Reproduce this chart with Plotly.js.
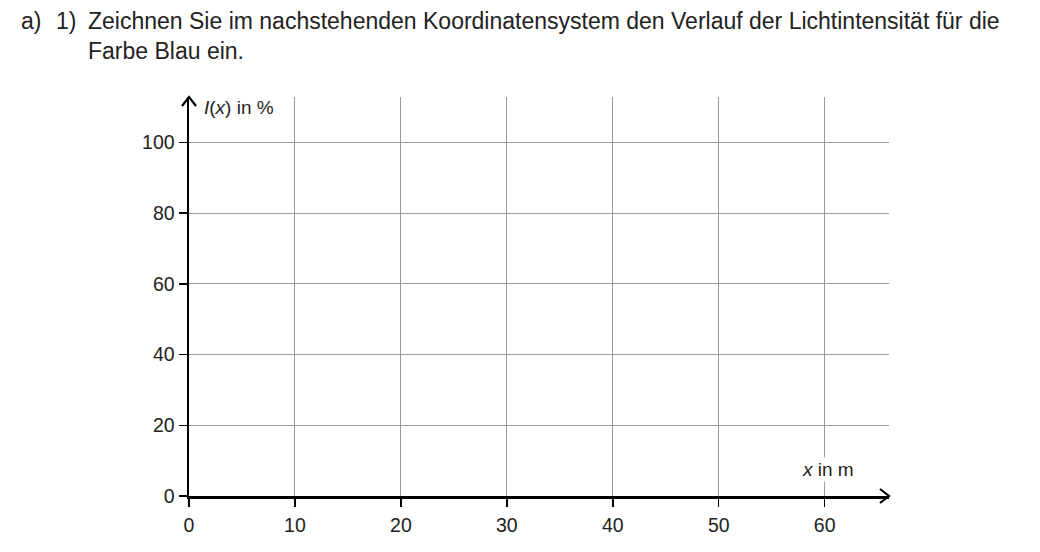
<!DOCTYPE html>
<html>
<head>
<meta charset="utf-8">
<script src="https://cdn.plot.ly/plotly-3.0.1.min.js"></script>
<style>
html,body{margin:0;padding:0;background:#fff;}
#chart{width:1040px;height:552px;}
</style>
</head>
<body>
<div id="chart"></div>
<script>
// Tick values of the empty coordinate system
const xTicks = [0, 10, 20, 30, 40, 50, 60];
const yTicks = [0, 20, 40, 60, 80, 100];
const xMax = 66.07;
const yMax = 112.8;

const questionLabel = "a)";
const subLabel = "1)";
const questionText = "Zeichnen Sie im nachstehenden Koordinatensystem den Verlauf der Lichtintensität für die<br>Farbe Blau ein.";
const yTitle = "<i>I</i>(<i>x</i>) in %";
const xTitle = "<i>x</i> in m";

const font = "Liberation Sans, Arial, Helvetica, sans-serif";
const txtColor = "#222";

const layout = {
  width: 1040, height: 552,
  margin: {l: 189, r: 151, t: 97, b: 56, pad: 0},
  paper_bgcolor: "#fff", plot_bgcolor: "#fff",
  showlegend: false,
  font: {family: font, color: txtColor, size: 19},
  xaxis: {
    range: [0, xMax], tickmode: "array", tickvals: xTicks, ticktext: xTicks.map(String),
    showgrid: true, gridcolor: "#9a9a9a", gridwidth: 1,
    showline: true, linecolor: "#000", linewidth: 2.5,
    ticks: "outside", ticklen: 8, tickwidth: 1.5, tickcolor: "#000",
    ticklabelstandoff: 2,
    zeroline: false, fixedrange: true,
    tickfont: {family: font, size: 19.5, color: txtColor}
  },
  yaxis: {
    range: [0, yMax], tickmode: "array", tickvals: yTicks, ticktext: yTicks.map(String),
    showgrid: true, gridcolor: "#9a9a9a", gridwidth: 1,
    showline: true, linecolor: "#000", linewidth: 2.5,
    ticks: "outside", ticklen: 8, tickwidth: 1.5, tickcolor: "#000",
    zeroline: false, fixedrange: true,
    tickfont: {family: font, size: 19.5, color: txtColor}
  },
  shapes: [
    {type: "path", xref: "paper", yref: "paper", xsizemode: "pixel", ysizemode: "pixel",
     xanchor: 1, yanchor: 0, path: "M-9,7 L0,0 L-9,-7",
     line: {color: "#000", width: 2.2}},
    {type: "path", xref: "paper", yref: "paper", xsizemode: "pixel", ysizemode: "pixel",
     xanchor: 0, yanchor: 1, path: "M-7,-9 L0,0 L7,-9",
     line: {color: "#000", width: 2.2}}
  ],
  annotations: [
    {text: questionLabel, xref: "paper", yref: "paper", x: -189/700 + 19/700, y: 1 + (97 - 6)/399,
     xanchor: "left", yanchor: "top", showarrow: false, align: "left",
     font: {family: font, size: 23, color: txtColor}},
    {text: subLabel, xref: "paper", yref: "paper", x: -189/700 + 54/700, y: 1 + (97 - 6)/399,
     xanchor: "left", yanchor: "top", showarrow: false, align: "left",
     font: {family: font, size: 23, color: txtColor}},
    {text: questionText, xref: "paper", yref: "paper", x: -189/700 + 86/700, y: 1 + (97 - 6)/399,
     xanchor: "left", yanchor: "top", showarrow: false, align: "left",
     font: {family: font, size: 23, color: txtColor}},
    {text: yTitle, xref: "paper", yref: "paper", x: 13/700, y: 1 - 10/399,
     xanchor: "left", yanchor: "middle", showarrow: false,
     font: {family: font, size: 19, color: txtColor}},
    {text: xTitle, xref: "x", yref: "y", x: 60.3, y: 7.5,
     xanchor: "center", yanchor: "middle", showarrow: false, bgcolor: "#fff",
     font: {family: font, size: 19, color: txtColor}}
  ]
};

Plotly.newPlot("chart", [{type: "scatter", x: [], y: [], mode: "lines"}], layout, {staticPlot: true, displayModeBar: false});
</script>
</body>
</html>
